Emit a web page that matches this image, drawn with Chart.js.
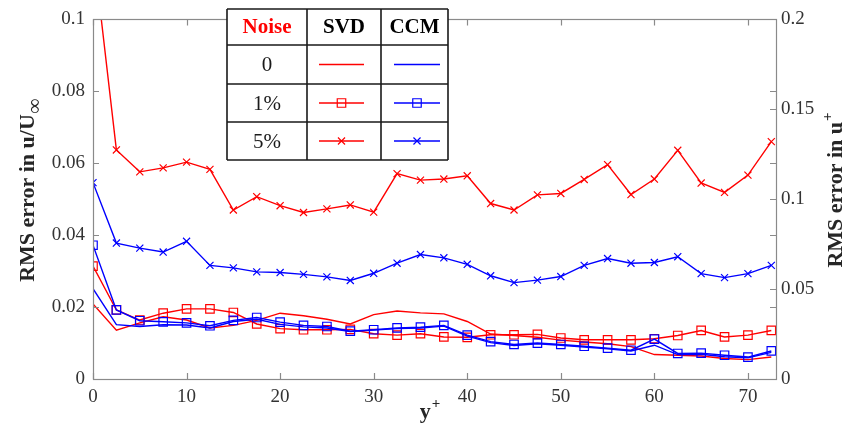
<!DOCTYPE html>
<html>
<head>
<meta charset="utf-8">
<script src="https://cdn.jsdelivr.net/npm/chart.js@4/dist/chart.umd.min.js"></script>
<style>
  html, body { margin: 0; padding: 0; background: #fff; }
  #wrap { width: 850px; height: 426px; }
</style>
</head>
<body>
<div id="wrap"><canvas id="c" width="850" height="426"></canvas></div>
<script>
// ---- data ----
const yPlus = [0, 2.5, 5, 7.5, 10, 12.5, 15, 17.5, 20, 22.5, 25, 27.5, 30, 32.5, 35, 37.5, 40, 42.5, 45, 47.5, 50, 52.5, 55, 57.5, 60, 62.5, 65, 67.5, 70, 72.5];

const svd0 = [0.0209, 0.0136, 0.0156, 0.0173, 0.0164, 0.0142, 0.0149, 0.0163, 0.0183, 0.0176, 0.0166, 0.0153, 0.0179, 0.0189, 0.0184, 0.0181, 0.0160, 0.0125, 0.0121, 0.0116, 0.0108, 0.0103, 0.0098, 0.0090, 0.0068, 0.0066, 0.0064, 0.0057, 0.0054, 0.0061];
const ccm0 = [0.0251, 0.0151, 0.0146, 0.0151, 0.0150, 0.0142, 0.0160, 0.0166, 0.0152, 0.0145, 0.0142, 0.0132, 0.0136, 0.0140, 0.0142, 0.0147, 0.0119, 0.0101, 0.0093, 0.0098, 0.0094, 0.0089, 0.0084, 0.0078, 0.0094, 0.0068, 0.0069, 0.0062, 0.0059, 0.0074];
const svd1 = [0.0314, 0.0192, 0.0164, 0.0183, 0.0195, 0.0195, 0.0185, 0.0153, 0.0140, 0.0137, 0.0137, 0.0138, 0.0126, 0.0122, 0.0126, 0.0117, 0.0116, 0.0123, 0.0123, 0.0124, 0.0114, 0.0109, 0.0109, 0.0109, 0.0112, 0.0121, 0.0135, 0.0117, 0.0122, 0.0135];
const ccm1 = [0.0372, 0.0192, 0.0162, 0.0159, 0.0156, 0.0148, 0.0163, 0.0171, 0.0158, 0.0149, 0.0146, 0.0133, 0.0137, 0.0142, 0.0144, 0.0149, 0.0122, 0.0104, 0.0096, 0.0100, 0.0096, 0.0091, 0.0086, 0.0080, 0.0111, 0.0071, 0.0072, 0.0066, 0.0061, 0.0078];
const svd5 = [0.1200, 0.0637, 0.0576, 0.0587, 0.0603, 0.0583, 0.0470, 0.0507, 0.0482, 0.0463, 0.0473, 0.0484, 0.0464, 0.0571, 0.0553, 0.0556, 0.0565, 0.0488, 0.0470, 0.0512, 0.0516, 0.0555, 0.0596, 0.0513, 0.0556, 0.0636, 0.0545, 0.0519, 0.0567, 0.0660];
const ccm5 = [0.0546, 0.0378, 0.0364, 0.0353, 0.0383, 0.0316, 0.0309, 0.0298, 0.0296, 0.0291, 0.0284, 0.0274, 0.0294, 0.0322, 0.0346, 0.0337, 0.0319, 0.0287, 0.0268, 0.0275, 0.0285, 0.0316, 0.0335, 0.0322, 0.0324, 0.0340, 0.0293, 0.0282, 0.0293, 0.0316];

const xTicks = [0, 10, 20, 30, 40, 50, 60, 70];
const leftTicks = [0, 0.02, 0.04, 0.06, 0.08, 0.1];
const rightTicks = [0, 0.05, 0.1, 0.15, 0.2];

const tableHeader = ['Noise', 'SVD', 'CCM'];
const tableRows = ['0', '1%', '5%'];

const leftTitle = 'RMS error in u/U';
const leftTitleSub = '\u221E';
const rightTitle = 'RMS error in u';
const rightTitleSup = '+';
const xTitle = 'y';
const xTitleSup = '+';

const RED = 'rgb(255,0,0)';
const BLUE = 'rgb(0,0,255)';
const SERIF = '"Liberation Serif", "DejaVu Serif", serif';
const SQ_R = 6, X_R = 5;

function pts(arr) { return arr.map((v, i) => ({ x: yPlus[i], y: v })); }

function ds(label, data, color, style, order) {
  return {
    label: label,
    data: pts(data),
    borderColor: color,
    backgroundColor: color,
    borderWidth: 1.4,
    pointStyle: style || false,
    pointRadius: style ? (style === 'rect' ? SQ_R : X_R) : 0,
    pointBorderWidth: 1.2,
    pointBorderColor: color,
    pointBackgroundColor: 'rgba(0,0,0,0)',
    tension: 0,
    order: order,
    yAxisID: 'y'
  };
}

function drawScript(ctx, x, y, main, script, dy, font, small) {
  ctx.font = font;
  const w1 = ctx.measureText(main).width;
  ctx.font = small;
  const w2 = ctx.measureText(script).width;
  const total = w1 + w2 + 1;
  const x0 = x - total / 2;
  ctx.textAlign = 'left';
  ctx.textBaseline = 'middle';
  ctx.font = font;
  ctx.fillText(main, x0, y);
  ctx.font = small;
  ctx.fillText(script, x0 + w1 + 1, y + dy);
}

const decor = {
  id: 'decor',
  afterDatasetsDraw(chart) {
    const ctx = chart.ctx;
    const a = chart.chartArea;
    const xs = chart.scales.x, ys = chart.scales.y, y2 = chart.scales.y2;
    ctx.save();
    // axes box
    ctx.strokeStyle = '#8a8a8a';
    ctx.lineWidth = 1.2;
    ctx.strokeRect(Math.round(a.left) + 0.5, Math.round(a.top) + 0.5, Math.round(a.right - a.left), Math.round(a.bottom - a.top));
    // inward tick marks
    const tl = 6;
    ctx.beginPath();
    xTicks.forEach(t => {
      const px = Math.round(xs.getPixelForValue(t)) + 0.5;
      ctx.moveTo(px, a.bottom); ctx.lineTo(px, a.bottom - tl);
      ctx.moveTo(px, a.top); ctx.lineTo(px, a.top + tl);
    });
    leftTicks.forEach(t => {
      const py = Math.round(ys.getPixelForValue(t)) + 0.5;
      ctx.moveTo(a.left, py); ctx.lineTo(a.left + tl, py);
      ctx.moveTo(a.right, py); ctx.lineTo(a.right - tl, py);
    });
    rightTicks.forEach(t => {
      const py = Math.round(y2.getPixelForValue(t)) + 0.5;
      ctx.moveTo(a.right, py); ctx.lineTo(a.right - tl, py);
    });
    ctx.stroke();

    // axis titles
    ctx.fillStyle = '#262626';
    const tf = 'bold 22px ' + SERIF;
    const sf = 'bold 15px ' + SERIF;
    ctx.save();
    ctx.translate(28, 190);
    ctx.rotate(-Math.PI / 2);
    drawScript(ctx, 0, 0, leftTitle, leftTitleSub, 8, tf, 'bold 21px ' + SERIF);
    ctx.restore();
    ctx.save();
    ctx.translate(836, 190);
    ctx.rotate(-Math.PI / 2);
    drawScript(ctx, 0, 0, rightTitle, rightTitleSup, -8, tf, sf);
    ctx.restore();
    drawScript(ctx, 430, 412, xTitle, xTitleSup, -8, tf, sf);

    // legend table
    const colX = [227, 307, 381, 448];
    const rowY = [9, 45, 84, 122, 160];
    ctx.fillStyle = '#fff';
    ctx.fillRect(colX[0], rowY[0], colX[3] - colX[0], rowY[4] - rowY[0]);
    ctx.strokeStyle = '#1a1a1a';
    ctx.lineWidth = 1.6;
    ctx.beginPath();
    colX.forEach(x => { ctx.moveTo(x, rowY[0]); ctx.lineTo(x, rowY[4]); });
    rowY.forEach(y => { ctx.moveTo(colX[0], y); ctx.lineTo(colX[3], y); });
    ctx.stroke();
    ctx.textAlign = 'center';
    ctx.textBaseline = 'middle';
    ctx.font = 'bold 21px ' + SERIF;
    tableHeader.forEach((h, i) => {
      ctx.fillStyle = i === 0 ? RED : '#000';
      ctx.fillText(h, (colX[i] + colX[i + 1]) / 2, (rowY[0] + rowY[1]) / 2 + 1);
    });
    ctx.font = '21px ' + SERIF;
    ctx.fillStyle = '#1a1a1a';
    tableRows.forEach((r, i) => {
      ctx.fillText(r, (colX[0] + colX[1]) / 2, (rowY[i + 1] + rowY[i + 2]) / 2 + 1);
    });
    const styles = [false, 'rect', 'crossRot'];
    const cols = [[319, 364, RED], [394, 440, BLUE]];
    styles.forEach((st, i) => {
      const yy = (rowY[i + 1] + rowY[i + 2]) / 2;
      cols.forEach(([x1, x2, c]) => {
        ctx.strokeStyle = c;
        ctx.lineWidth = 1.4;
        ctx.beginPath();
        ctx.moveTo(x1, yy); ctx.lineTo(x2, yy);
        ctx.stroke();
        if (st) {
          ctx.strokeStyle = c;
          ctx.fillStyle = 'rgba(0,0,0,0)';
          ctx.lineWidth = 1.2;
          Chart.helpers.drawPoint(ctx, {
            pointStyle: st, radius: st === 'rect' ? SQ_R : X_R, rotation: 0, borderWidth: 1.2
          }, (x1 + x2) / 2, yy);
        }
      });
    });
    ctx.restore();
  }
};

const tickFont = { family: SERIF, size: 19 };

new Chart(document.getElementById('c'), {
  type: 'line',
  data: {
    datasets: [
      ds('SVD 0', svd0, RED, false, 6),
      ds('SVD 1%', svd1, RED, 'rect', 5),
      ds('SVD 5%', svd5, RED, 'crossRot', 4),
      ds('CCM 0', ccm0, BLUE, false, 3),
      ds('CCM 1%', ccm1, BLUE, 'rect', 2),
      ds('CCM 5%', ccm5, BLUE, 'crossRot', 1)
    ]
  },
  options: {
    responsive: false,
    animation: false,
    layout: { padding: { top: 16, left: 0, right: 0, bottom: 0 } },
    plugins: { legend: { display: false }, tooltip: { enabled: false } },
    scales: {
      x: {
        type: 'linear', position: 'bottom', min: 0, max: 73,
        afterBuildTicks: s => { s.ticks = xTicks.map(v => ({ value: v })); },
        afterFit: s => { s.height = 47; },
        grid: { display: false, drawTicks: false, tickLength: 0 },
        border: { display: false },
        ticks: { padding: 7, color: '#333', font: tickFont, maxRotation: 0 }
      },
      y: {
        type: 'linear', position: 'left', min: 0, max: 0.1,
        afterBuildTicks: s => { s.ticks = leftTicks.map(v => ({ value: v })); },
        afterFit: s => { s.width = 93; },
        grid: { display: false, drawTicks: false, tickLength: 0 },
        border: { display: false },
        ticks: { padding: 8, color: '#333', font: tickFont,
          callback: v => String(+v.toFixed(3)) }
      },
      y2: {
        type: 'linear', position: 'right', min: 0, max: 0.2,
        afterBuildTicks: s => { s.ticks = rightTicks.map(v => ({ value: v })); },
        afterFit: s => { s.width = 74; },
        grid: { display: false, drawTicks: false, tickLength: 0 },
        border: { display: false },
        ticks: { padding: 5, color: '#333', font: tickFont,
          callback: v => String(+v.toFixed(3)) }
      }
    }
  },
  plugins: [decor]
});
</script>
</body>
</html>
